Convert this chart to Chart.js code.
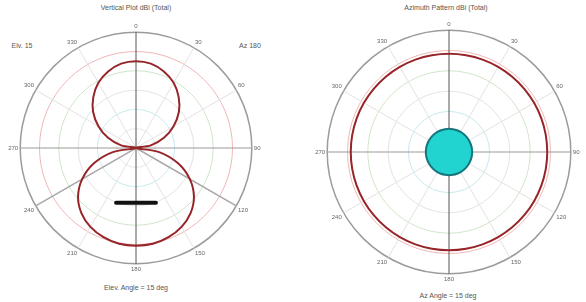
<!DOCTYPE html>
<html>
<head>
<meta charset="utf-8">
<script src="https://cdn.jsdelivr.net/npm/chart.js@4.4.0/dist/chart.umd.min.js"></script>
<style>
  body { margin: 0; width: 586px; height: 302px; background: #fff; position: relative; overflow: hidden; font-family: "Liberation Sans", Arial, sans-serif; }
  .box { position: absolute; }
  .txt { position: absolute; font-size: 7px; color: #555; white-space: nowrap; transform: translateX(-50%); }
</style>
</head>
<body>
<div class="txt" style="left:136px;top:4px">Vertical Plot dBi (Total)</div>
<div class="txt" style="left:22px;top:42px">Elv. 15</div>
<div class="txt" style="left:250px;top:42px">Az 180</div>
<div class="txt" style="left:136px;top:284px">Elev. Angle = 15 deg</div>
<div class="box" style="left:0px;top:23px;width:272px;height:250px"><canvas id="elevChart"></canvas></div>

<div class="txt" style="left:446px;top:4px">Azimuth Pattern dBi (Total)</div>
<div class="txt" style="left:448px;top:292px">Az Angle = 15 deg</div>
<div class="box" style="left:308px;top:21px;width:280px;height:262px"><canvas id="azChart"></canvas></div>

<script>
// angles every 10 degrees, clockwise from the top
const angles = [0, 10, 20, 30, 40, 50, 60, 70, 80, 90, 100, 110, 120, 130, 140, 150, 160, 170,
  180, 190, 200, 210, 220, 230, 240, 250, 260, 270, 280, 290, 300, 310, 320, 330, 340, 350];

// left plot (dBi)
const elevPattern = [-7.5, -7.8, -8.9, -10.5, -12.8, -15.5, -18.8, -22.3, -26.1, -30, -23.9, -18.4,
  -13.9, -10.4, -8.0, -6.4, -5.4, -4.8, -4.7, -4.8, -5.4, -6.4, -8.0, -10.4,
  -13.9, -18.4, -23.9, -30, -26.1, -22.3, -18.8, -15.5, -12.8, -10.5, -8.9, -7.8];
const beamLines = [-30, -30, -30, -30, -30, -30, -30, -30, -30, -30, -30, -30,
  0, -30, -30, -30, -30, -30, -30, -30, -30, -30, -30, -30,
  0, -30, -30, -30, -30, -30, -30, -30, -30, -30, -30, -30];
const elementBar = [null, null, null, null, null, null, null, null, null, null, null, null,
  null, null, null, null, -14.9, -15.6, -15.8, -15.6, -14.9, null, null, null,
  null, null, null, null, null, null, null, null, null, null, null, null];

// right plot (dBi)
const azPattern = [-5.8, -5.8, -5.8, -5.8, -5.8, -5.8, -5.8, -5.8, -5.8, -5.8, -5.8, -5.8,
  -5.8, -5.8, -5.8, -5.8, -5.8, -5.8, -5.8, -5.8, -5.8, -5.8, -5.8, -5.8,
  -5.8, -5.8, -5.8, -5.8, -5.8, -5.8, -5.8, -5.8, -5.8, -5.8, -5.8, -5.8];
const azInner = [-24.3, -24.3, -24.3, -24.3, -24.3, -24.3, -24.3, -24.3, -24.3, -24.3, -24.3, -24.3,
  -24.3, -24.3, -24.3, -24.3, -24.3, -24.3, -24.3, -24.3, -24.3, -24.3, -24.3, -24.3,
  -24.3, -24.3, -24.3, -24.3, -24.3, -24.3, -24.3, -24.3, -24.3, -24.3, -24.3, -24.3];

const ringColors = { "0": "#9c9c9c", "-5": "#f1b6b6", "-10": "#cfe5c8", "-15": "#e3e3e3", "-20": "#c8e8ee", "-25": "#e6e6e6" };

const polarOptions = () => ({
  responsive: true,
  maintainAspectRatio: false,
  animation: false,
  plugins: { legend: { display: false }, tooltip: { enabled: false } },
  elements: { point: { radius: 0 }, line: { tension: 0 } },
  scales: {
    r: {
      min: -30,
      max: 0,
      ticks: { stepSize: 5, display: false },
      grid: {
        circular: true,
        color: (ctx) => ringColors[String(ctx.tick.value)] || "#e6e6e6",
        lineWidth: (ctx) => (ctx.tick.value === 0 ? 1.5 : 1),
      },
      angleLines: {
        color: (ctx) => {
          if (ctx.index === 0 || ctx.index === 18) return "#555";
          if (ctx.index === 9 || ctx.index === 27) return "#999";
          return ctx.index % 3 === 0 ? "#e2e2e2" : "rgba(0,0,0,0)";
        },
      },
      pointLabels: {
        padding: 2,
        color: "#666",
        font: { size: 6, family: "Liberation Sans" },
        callback: (label, i) => (i % 3 === 0 ? String(label) : ""),
      },
    },
  },
});

new Chart(document.getElementById("elevChart"), {
  type: "radar",
  data: {
    labels: angles,
    datasets: [
      { data: elevPattern, borderColor: "#962428", borderWidth: 2, tension: 0.35, fill: false },
      { data: elementBar, borderColor: "#111", borderWidth: 4, borderCapStyle: "round", spanGaps: false, fill: false },
      { data: beamLines, borderColor: "#a9a9a9", borderWidth: 1.5, fill: false },
    ],
  },
  options: polarOptions(),
});

new Chart(document.getElementById("azChart"), {
  type: "radar",
  data: {
    labels: angles,
    datasets: [
      { data: azPattern, borderColor: "#962428", borderWidth: 2, tension: 0.35, fill: false },
      { data: azInner, borderColor: "#16757c", backgroundColor: "#22d4d0", borderWidth: 2, tension: 0.35, fill: "start" },
    ],
  },
  options: polarOptions(),
});
</script>
</body>
</html>
